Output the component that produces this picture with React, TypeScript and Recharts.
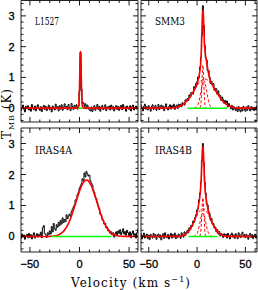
import React from 'react';
import { LineChart, Line, XAxis, YAxis } from 'recharts';

// Velocity channels (km/s)
const VEL = [
  -60,-59,-58,-57,-56,-55,-54,-53,-52,-51,
  -50,-49,-48,-47,-46,-45,-44,-43,-42,-41,
  -40,-39,-38,-37,-36,-35,-34,-33,-32,-31,
  -30,-29,-28,-27,-26,-25,-24,-23,-22,-21,
  -20,-19,-18,-17,-16,-15,-14,-13,-12,-11,
  -10,-9,-8,-7,-6,-5,-4,-3,-2,-1,
  0,1,2,3,4,5,6,7,8,9,
  10,11,12,13,14,15,16,17,18,19,
  20,21,22,23,24,25,26,27,28,29,
  30,31,32,33,34,35,36,37,38,39,
  40,41,42,43,44,45,46,47,48,49,
  50,51,52,53,54,55,56,57,58,59,
  60,61,62,63,64,65,
];

// Observed spectra T_MB (K)
const L1527_T = [
  0.05,-0.08,0.02,0.10,-0.04,-0.12,0.06,-0.02,0.08,-0.06,
  0.03,-0.10,0.12,0.00,-0.05,0.07,-0.09,0.04,0.11,-0.03,
  -0.07,0.05,-0.11,0.02,0.09,-0.04,0.06,-0.08,0.01,0.10,
  -0.05,0.03,-0.12,0.07,0.00,-0.06,0.13,-0.02,0.05,-0.09,
  0.08,-0.03,0.11,-0.07,0.04,0.14,-0.01,0.06,-0.05,0.12,
  0.02,-0.08,0.15,0.05,-0.04,0.09,0.01,0.11,-0.03,0.06,
  0.55,1.82,0.62,0.15,0.18,0.05,0.14,-0.02,0.10,0.03,
  -0.06,-0.09,0.04,-0.11,-0.03,0.08,-0.07,0.02,0.12,-0.04,
  0.06,-0.10,0.03,0.09,-0.05,0.01,0.11,-0.08,0.04,-0.02,
  0.07,-0.06,0.10,-0.03,0.05,-0.09,0.02,0.08,-0.04,0.06,
  -0.07,0.03,0.09,-0.05,0.12,-0.02,0.04,-0.10,0.07,0.01,
  -0.04,0.08,-0.09,0.05,0.10,-0.06,0.02,0.07,-0.03,0.04,
  -0.08,0.06,0.01,-0.05,0.09,-0.02,
];
const SMM3_T = [
  0.04,-0.07,0.10,0.02,-0.09,0.06,0.13,-0.03,0.05,-0.06,
  0.08,0.01,-0.10,0.05,0.11,-0.04,0.03,0.09,-0.07,0.02,
  0.12,-0.05,0.06,0.10,-0.02,0.07,-0.08,0.04,0.14,0.01,
  -0.06,0.05,0.11,-0.03,0.08,0.02,0.13,-0.04,0.06,0.10,
  -0.01,0.13,0.04,0.13,0.05,0.18,0.14,0.10,0.27,0.25,
  0.31,0.25,0.43,0.36,0.51,0.51,0.46,0.70,0.66,0.80,
  0.86,1.01,0.99,1.33,1.65,2.36,3.33,2.69,2.04,1.63,
  1.57,1.22,1.22,1.01,0.80,0.87,0.76,0.80,0.58,0.64,
  0.63,0.45,0.56,0.43,0.41,0.25,0.36,0.28,0.16,0.25,
  0.17,0.23,0.04,0.15,0.07,-0.02,0.09,-0.06,0.05,-0.02,
  -0.08,0.03,-0.11,0.05,-0.06,-0.12,0.02,-0.09,0.06,-0.03,
  -0.10,0.04,-0.07,0.08,-0.02,-0.09,0.05,-0.05,0.01,-0.08,
  0.03,-0.06,0.07,-0.04,0.02,-0.07,
];
const IRAS4A_T = [
  0.03,-0.06,0.08,-0.02,0.05,-0.09,0.02,0.07,-0.04,0.10,
  -0.03,0.06,-0.08,0.04,0.12,-0.05,0.01,0.09,-0.02,0.07,
  0.03,0.14,-0.04,0.28,0.35,0.10,0.05,-0.03,0.12,0.06,
  0.18,0.08,0.32,0.15,0.42,0.25,0.20,0.38,0.30,0.46,
  0.35,0.52,0.40,0.60,0.45,0.55,0.48,0.70,0.58,0.66,
  0.72,0.65,0.80,0.88,0.95,1.02,1.18,1.20,1.35,1.42,
  1.55,1.62,1.70,1.86,1.80,2.05,1.92,2.10,2.02,1.95,
  1.98,1.80,1.72,1.66,1.50,1.42,1.28,1.22,1.10,0.98,
  0.90,0.72,0.70,0.55,0.52,0.40,0.42,0.28,0.30,0.18,
  0.20,0.10,0.15,0.05,0.12,-0.02,0.08,0.15,0.05,0.18,
  0.10,0.22,0.06,0.14,0.25,0.08,0.16,0.04,0.20,0.12,
  0.02,0.15,-0.04,0.10,0.18,0.03,0.09,-0.05,0.12,0.22,
  0.05,0.10,-0.03,0.08,0.02,0.06,
];
const IRAS4B_T = [
  0.06,-0.04,0.09,-0.08,0.03,0.11,-0.05,0.02,0.08,-0.07,
  0.04,-0.10,0.07,0.01,-0.05,0.10,-0.02,0.06,-0.09,0.03,
  0.08,-0.03,0.05,-0.11,0.02,0.09,-0.06,0.12,0.00,-0.04,
  0.07,-0.08,0.03,0.10,-0.05,0.06,-0.02,0.11,-0.07,0.04,
  -0.03,0.08,0.02,-0.06,0.12,0.05,-0.02,0.15,0.04,0.13,
  0.20,0.12,0.28,0.22,0.36,0.33,0.50,0.46,0.62,0.70,
  0.86,0.90,1.18,1.40,1.75,2.45,3.00,2.38,1.75,1.40,
  1.05,1.02,0.80,0.74,0.52,0.58,0.40,0.42,0.28,0.30,
  0.15,0.22,0.08,0.16,0.02,0.10,0.06,-0.03,0.09,0.04,
  0.07,-0.05,0.10,0.03,-0.08,0.06,0.11,-0.02,0.05,-0.06,
  0.09,0.02,-0.07,0.12,0.04,-0.03,0.08,0.14,-0.01,0.06,
  -0.04,0.07,0.02,-0.09,0.05,0.10,-0.03,0.06,-0.07,0.03,
  0.08,-0.05,0.04,0.11,-0.02,0.06,
];

// Gaussian fits (total) and components
const L1527_FIT_V = [-60,-2,-1,-0.5,0,0.5,1,1.5,2,2.5,3,4,65];
const L1527_FIT_T = [0,0,0.04,0.21,0.71,1.46,1.85,1.46,0.71,0.21,0.04,0,0];

const SMM3_FIT_V = [-60,-30,-25,-20,-18,-16,-14,-12,-10,-8,-6,-4,-2,-1,0,1,2,3,3.5,4,4.5,5,5.5,6,6.5,7,7.5,8,8.5,9,10,11,12,13,14,15,16,17,18,20,22,24,26,28,30,32,34,36,38,40,43,48,65];
const SMM3_FIT_T = [0,0.003,0.011,0.038,0.059,0.089,0.130,0.184,0.251,0.332,0.425,0.527,0.639,0.705,0.787,0.894,1.039,1.229,1.363,1.572,1.921,2.422,2.932,3.186,3.041,2.635,2.221,1.942,1.781,1.671,1.476,1.280,1.109,0.974,0.876,0.801,0.740,0.684,0.630,0.526,0.425,0.332,0.251,0.184,0.130,0.089,0.059,0.038,0.024,0.014,0.006,0.001,0];
const SMM3_A_V = [3,3.5,4,4.5,5,5.5,6,6.5,7,7.5,8,8.5,9];
const SMM3_A_T = [0.008,0.039,0.141,0.386,0.789,1.213,1.4,1.213,0.789,0.386,0.141,0.039,0.008];
const SMM3_B_V = [-3,-2,-1,0,1,2,3,4,5,6,7,8,9,10,11,12,13,14,15,16,17];
const SMM3_B_T = [0.003,0.009,0.024,0.056,0.117,0.219,0.364,0.541,0.717,0.851,0.9,0.851,0.717,0.541,0.364,0.219,0.117,0.056,0.024,0.009,0.003];
const SMM3_C_V = [-30,-25,-20,-16,-12,-8,-4,0,4,8,12,16,20,24,28,32,36,41,46];
const SMM3_C_T = [0.003,0.011,0.038,0.089,0.184,0.332,0.526,0.731,0.890,0.95,0.890,0.731,0.526,0.332,0.184,0.089,0.038,0.011,0.003];

const IRAS4A_FIT_V = [-60,-35,-30,-28,-26,-24,-22,-20,-18,-16,-14,-12,-10,-8,-6,-4,-2,0,2,4,5,6,7,8,9,10,12,14,16,18,20,22,24,26,28,30,32,34,36,38,40,44,65];
const IRAS4A_FIT_T = [0,0.001,0.004,0.008,0.015,0.026,0.044,0.072,0.114,0.174,0.257,0.367,0.505,0.671,0.860,1.064,1.270,1.464,1.629,1.749,1.788,1.812,1.820,1.812,1.788,1.749,1.629,1.464,1.270,1.064,0.860,0.671,0.505,0.367,0.257,0.174,0.114,0.072,0.044,0.026,0.015,0.004,0];

const IRAS4B_FIT_V = [-60,-21,-18,-16,-14,-12,-10,-8,-6,-4,-2,-1,0,1,2,3,3.5,4,4.5,5,5.5,6,6.5,7,7.5,8,8.5,9,10,11,12,13,14,16,18,20,22,24,26,28,30,33,65];
const IRAS4B_FIT_T = [0,0.003,0.011,0.022,0.042,0.075,0.126,0.200,0.298,0.421,0.571,0.665,0.781,0.925,1.099,1.314,1.463,1.683,2.005,2.404,2.756,2.900,2.756,2.404,2.005,1.683,1.463,1.314,1.099,0.925,0.781,0.665,0.571,0.421,0.298,0.200,0.126,0.075,0.042,0.022,0.011,0.003,0];
const IRAS4B_A_V = [2.5,3,3.5,4,4.5,5,5.5,6,6.5,7,7.5,8,8.5,9,9.5];
const IRAS4B_A_T = [0.005,0.023,0.078,0.212,0.461,0.802,1.119,1.25,1.119,0.802,0.461,0.212,0.078,0.023,0.005];
const IRAS4B_B_V = [-4,-3,-2,-1,0,1,2,3,4,5,6,7,8,9,10,11,12,13,14,15,16];
const IRAS4B_B_T = [0.003,0.008,0.020,0.047,0.098,0.182,0.303,0.451,0.598,0.709,0.75,0.709,0.598,0.451,0.303,0.182,0.098,0.047,0.020,0.008,0.003];
const IRAS4B_C_V = [-21,-18,-14,-10,-6,-2,2,6,10,14,18,22,26,30,33];
const IRAS4B_C_T = [0.003,0.011,0.042,0.126,0.298,0.551,0.796,0.9,0.796,0.551,0.298,0.126,0.042,0.011,0.003];

// Baseline ranges (green)
const L1527_BASE = [-1, 3];
const SMM3_BASE = [-10, 31];
const IRAS4A_BASE = [-28, 32];
const IRAS4B_BASE = [-9, 21];

// Axes
const X_DOMAIN_LEFT = [-59, 59];
const X_DOMAIN_RIGHT = [-58, 62];
const X_TICKS_LEFT = [-50,-40,-30,-20,-10,0,10,20,30,40,50];
const X_TICKS_RIGHT = [-50,-40,-30,-20,-10,0,10,20,30,40,50,60];
const X_MAJORS = [-50, 0, 50];
const Y_DOMAIN_TOP = [-0.45, 3.5];
const Y_DOMAIN_BOTTOM = [-0.5, 3.5];
const Y_TICKS = [-0.4,-0.2,0,0.2,0.4,0.6,0.8,1,1.2,1.4,1.6,1.8,2,2.2,2.4,2.6,2.8,3,3.2,3.4];
const Y_MAJORS = [0, 1, 2, 3];

const pts = (v: number[], t: number[]) => v.map((x, i) => ({ v: x, t: t[i] }));
const base = (r: number[]) => [{ v: r[0], t: 0 }, { v: r[1], t: 0 }];

const TICK_FONT = '"Liberation Sans", Arial, sans-serif';
const SERIF = '"DejaVu Serif", "Liberation Serif", serif';
const THIN = 0.001;

function makeTick(side: string, majors: number[], label: boolean) {
  return (p: any) => {
    const x = p.x;
    const y = p.y;
    const v = p.payload.value;
    const major = majors.some((m) => Math.abs(m - v) < 1e-6);
    const len = major ? 5 : 2.5;
    let x2 = x;
    let y2 = y;
    if (side === 'bottom') y2 = y - len;
    else if (side === 'top') y2 = y + len;
    else if (side === 'left') x2 = x + len;
    else x2 = x - len;
    const txt = v < 0 ? '\u2212' + Math.abs(v) : String(v);
    let lab: any = null;
    if (label && major) {
      const common = { fontSize: 11, fontFamily: TICK_FONT, fill: '#000', stroke: '#000', strokeWidth: 0.3 };
      if (side === 'bottom') {
        lab = (
          <text x={x} y={y + 16} textAnchor="middle" {...common}>
            {txt}
          </text>
        );
      } else if (side === 'left') {
        lab = (
          <text x={x - 6.5} y={y + 4} textAnchor="end" {...common}>
            {txt}
          </text>
        );
      }
    }
    return (
      <g>
        <line x1={x} y1={y} x2={x2} y2={y2} stroke="#000" strokeWidth={0.9} />
        {lab}
      </g>
    );
  };
}

type PanelProps = {
  margin: any;
  xDomain: number[];
  xTicks: number[];
  yDomain: number[];
  data: { v: number; t: number }[];
  fit: { v: number; t: number }[];
  comps: { v: number; t: number }[][];
  green: { v: number; t: number }[];
  xLabels: boolean;
  yLabels: boolean;
};

function Panel(p: PanelProps) {
  const axisLine = { stroke: '#222', strokeWidth: 1 };
  return (
    <div style={{ position: 'absolute', left: 0, top: 0 }}>
      <LineChart width={258} height={290} margin={p.margin}>
        <XAxis
          dataKey="v"
          type="number"
          domain={p.xDomain as any}
          allowDataOverflow
          ticks={p.xTicks}
          interval={0}
          height={THIN}
          tickSize={0}
          tickMargin={0}
          tickLine={false}
          axisLine={axisLine}
          tick={makeTick('bottom', X_MAJORS, p.xLabels)}
        />
        <XAxis
          xAxisId="top"
          orientation="top"
          dataKey="v"
          type="number"
          domain={p.xDomain as any}
          allowDataOverflow
          ticks={p.xTicks}
          interval={0}
          height={THIN}
          tickSize={0}
          tickMargin={0}
          tickLine={false}
          axisLine={axisLine}
          tick={makeTick('top', X_MAJORS, false)}
        />
        <YAxis
          type="number"
          domain={p.yDomain as any}
          allowDataOverflow
          ticks={Y_TICKS}
          interval={0}
          width={THIN}
          tickSize={0}
          tickMargin={0}
          tickLine={false}
          axisLine={axisLine}
          tick={makeTick('left', Y_MAJORS, p.yLabels)}
        />
        <YAxis
          yAxisId="r"
          orientation="right"
          type="number"
          domain={p.yDomain as any}
          allowDataOverflow
          ticks={Y_TICKS}
          interval={0}
          width={THIN}
          tickSize={0}
          tickMargin={0}
          tickLine={false}
          axisLine={axisLine}
          tick={makeTick('right', Y_MAJORS, false)}
        />
        <Line data={p.data} dataKey="t" type="step" stroke="#000" strokeWidth={1} dot={false} isAnimationActive={false} />
        <Line data={p.fit} dataKey="t" type="monotone" stroke="#ff0000" strokeWidth={1.6} dot={false} isAnimationActive={false} />
        {p.comps.map((c, i) => (
          <Line
            key={i}
            data={c}
            dataKey="t"
            type="monotone"
            stroke="#ff0000"
            strokeWidth={1}
            strokeDasharray="3 2"
            dot={false}
            isAnimationActive={false}
          />
        ))}
        <Line data={p.green} dataKey="t" type="linear" stroke="#00ff00" strokeWidth={1.5} dot={false} isAnimationActive={false} />
      </LineChart>
    </div>
  );
}

export default function App() {
  return (
    <div style={{ position: 'absolute', left: 0, top: 0, width: 258, height: 290, background: '#fff', overflow: 'hidden' }}>
      <Panel
        margin={{ top: 0.5, left: 21, right: 120, bottom: 168 }}
        xDomain={X_DOMAIN_LEFT}
        xTicks={X_TICKS_LEFT}
        yDomain={Y_DOMAIN_TOP}
        data={pts(VEL, L1527_T)}
        fit={pts(L1527_FIT_V, L1527_FIT_T)}
        comps={[]}
        green={base(L1527_BASE)}
        xLabels={false}
        yLabels={true}
      />
      <Panel
        margin={{ top: 0.5, left: 141, right: 1, bottom: 168 }}
        xDomain={X_DOMAIN_RIGHT}
        xTicks={X_TICKS_RIGHT}
        yDomain={Y_DOMAIN_TOP}
        data={pts(VEL, SMM3_T)}
        fit={pts(SMM3_FIT_V, SMM3_FIT_T)}
        comps={[pts(SMM3_A_V, SMM3_A_T), pts(SMM3_B_V, SMM3_B_T), pts(SMM3_C_V, SMM3_C_T)]}
        green={base(SMM3_BASE)}
        xLabels={false}
        yLabels={false}
      />
      <Panel
        margin={{ top: 128, left: 21, right: 120, bottom: 38 }}
        xDomain={X_DOMAIN_LEFT}
        xTicks={X_TICKS_LEFT}
        yDomain={Y_DOMAIN_BOTTOM}
        data={pts(VEL, IRAS4A_T)}
        fit={pts(IRAS4A_FIT_V, IRAS4A_FIT_T)}
        comps={[]}
        green={base(IRAS4A_BASE)}
        xLabels={true}
        yLabels={true}
      />
      <Panel
        margin={{ top: 128, left: 141, right: 1, bottom: 38 }}
        xDomain={X_DOMAIN_RIGHT}
        xTicks={X_TICKS_RIGHT}
        yDomain={Y_DOMAIN_BOTTOM}
        data={pts(VEL, IRAS4B_T)}
        fit={pts(IRAS4B_FIT_V, IRAS4B_FIT_T)}
        comps={[pts(IRAS4B_A_V, IRAS4B_A_T), pts(IRAS4B_B_V, IRAS4B_B_T), pts(IRAS4B_C_V, IRAS4B_C_T)]}
        green={base(IRAS4B_BASE)}
        xLabels={true}
        yLabels={false}
      />
      <svg width={258} height={290} style={{ position: 'absolute', left: 0, top: 0, pointerEvents: 'none' }}>
        <g fontFamily={SERIF} fontSize={11.5} fill="#000">
          <text x={35} y={25} textLength={24} lengthAdjust="spacingAndGlyphs">L1527</text>
          <text x={155} y={25} textLength={30} lengthAdjust="spacingAndGlyphs">SMM3</text>
          <text x={35} y={154} textLength={37} lengthAdjust="spacingAndGlyphs">IRAS4A</text>
          <text x={155} y={153.5} textLength={37} lengthAdjust="spacingAndGlyphs">IRAS4B</text>
        </g>
        <text x={71} y={286.5} fontFamily={SERIF} fontSize={12} fill="#000" textLength={119} lengthAdjust="spacing">
          Velocity (km s<tspan dy={-5} fontSize={8}>{'\u22121'}</tspan><tspan dy={5}>)</tspan>
        </text>
        <text
          transform="translate(11,114) rotate(-90)"
          textAnchor="middle"
          fontFamily={SERIF}
          fontSize={12}
          fill="#000"
          textLength={50}
          lengthAdjust="spacing"
        >
          T<tspan dy={3} fontSize={8}>MB</tspan><tspan dy={-3}> (K)</tspan>
        </text>
      </svg>
    </div>
  );
}
